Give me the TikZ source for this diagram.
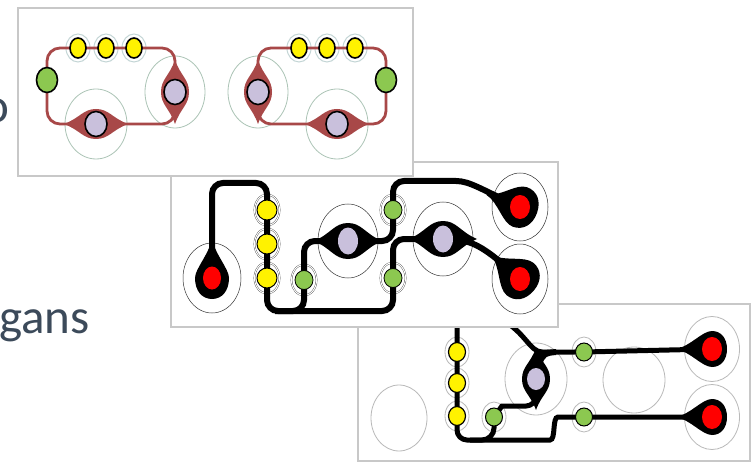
\documentclass[tikz,border=0pt]{standalone}
\usepackage{fontspec}
\newfontfamily\slidefont{Carlito}
\usetikzlibrary{shapes.geometric}
\usetikzlibrary{positioning}
\usetikzlibrary{backgrounds}
\definecolor{rust}{RGB}{168,72,72}
\definecolor{leafgreen}{RGB}{140,200,80}
\definecolor{lavender}{RGB}{201,192,220}
\definecolor{framegray}{RGB}{200,200,200}
\definecolor{sagegray}{RGB}{172,196,182}
\definecolor{mistgray}{RGB}{196,214,214}
\definecolor{lightgray}{RGB}{185,185,185}
\definecolor{slate}{RGB}{60,74,90}
\tikzstyle{dot} = [ellipse, inner sep=0pt, outer sep=0pt, draw=black, line width=1.2pt]
\tikzstyle{yel} = [dot, fill=yellow]
\tikzstyle{grn} = [dot, fill=leafgreen]
\tikzstyle{lav} = [dot, fill=lavender]
\tikzstyle{redspot} = [ellipse, inner sep=0pt, outer sep=0pt, fill=red]
\tikzstyle{panel} = [fill=white, draw=framegray, line width=2pt]
\tikzstyle{zone} = [draw=black!80, line width=0.5pt]
\tikzstyle{halo} = [draw=black!75, line width=0.35pt, double, double distance=1pt]
\tikzstyle{rustline} = [draw=rust, line width=2.8pt, rounded corners=13pt]
\tikzstyle{wire} = [draw=black, line width=6pt, rounded corners=11pt]
\tikzstyle{thinwire} = [draw=black, line width=5pt, rounded corners=10pt]
\tikzstyle{slide} = [font=\slidefont\fontsize{49}{52}\selectfont, text=slate, inner sep=0pt]
\tikzset{sz/.style 2 args={minimum width=#1pt, minimum height=#2pt}}
\newcommand{\flare}[5][]{ %
  % lens round node #2, turned by #3, half length #4, half height #5
  \fill[#1, shift={(#2)}, rotate=#3] (-#4,0)
    .. controls ({-0.5*#4},{-0.4*#5}) and ({-0.4*#4},-#5) .. (0,-#5)
    .. controls ({0.4*#4},-#5) and ({0.5*#4},{-0.4*#5}) .. (#4,0)
    .. controls ({0.5*#4},{0.4*#5}) and ({0.4*#4},#5) .. (0,#5)
    .. controls ({-0.4*#4},#5) and ({-0.5*#4},{0.4*#5}) .. cycle ;
}
\newcommand{\tear}[6][]{ %
  % drop round node #2, tip turned by #3, length #4, half width #5, back #6
  \fill[#1, shift={(#2)}, rotate=#3] (0,-#4)
    .. controls ({0.15*#5},{-0.6*#4}) and (#5,{-0.55*#5}) .. (#5,0)
    .. controls (#5,{0.6*#6}) and ({0.6*#5},#6) .. (0,#6)
    .. controls ({-0.6*#5},#6) and (-#5,{0.6*#6}) .. (-#5,0)
    .. controls (-#5,{-0.55*#5}) and ({-0.15*#5},{-0.6*#4}) .. cycle ;
}
\newcommand{\ringnet}[3]{ %
  % one loop of the top panel: prefix #1, mirror axis #2, side #3
  \node[yel, sz={16}{20}, line width=1.6pt] (#1y1) at ({#2+#3*78},48) {};
  \node[yel, sz={16}{20}, line width=1.6pt] (#1y2) at ({#2+#3*106},48) {};
  \node[yel, sz={16}{20}, line width=1.6pt] (#1y3) at ({#2+#3*134},48) {};
  \node[grn, sz={21}{25}, line width=1.6pt] (#1g) at ({#2+#3*47},80) {};
  \node[lav, sz={22}{25}, line width=1.6pt] (#1p) at ({#2+#3*96},124) {};
  \node[lav, sz={22}{25}, line width=1.6pt] (#1q) at ({#2+#3*175},92) {};
  \begin{pgfonlayer}{background}
    \foreach \y in {#1y1,#1y2,#1y3}
      \draw[mistgray, line width=1pt] (\y) ellipse [x radius=12, y radius=14];
    \draw[sagegray, line width=0.8pt] (#1p) ellipse [x radius=31, y radius=35];
    \draw[sagegray, line width=0.8pt] (#1q) ellipse [x radius=30, y radius=36];
    \draw[rustline] (#1g.center) |- (#1y1.center) -- (#1y3.center)
      -| (#1q.center) |- (#1p.center) -| (#1g.center);
    \flare[rust]{#1p}{0}{32}{15}
    \flare[rust]{#1q}{90}{32}{14}
  \end{pgfonlayer}
}

\begin{document}
\begin{tikzpicture}[x=1pt, y=-1pt]
  \useasboundingbox (0,0) rectangle (751,462);

  % slide text behind the panels
  \node[slide, anchor=base east] (txto) at (10,123) {o};
  \node[slide, anchor=base west] (txtgans) at (-1,333) {gans};

  % bottom panel
  \node[yel, sz={17}{19}] (cy1) at (457,352) {};
  \node[yel, sz={17}{19}, below=12pt of cy1] (cy2) {};
  \node[yel, sz={17}{19}, below=14pt of cy2] (cy3) {};
  \node[grn, sz={17}{18}, line width=1pt] (cg1) at (494,417) {};
  \node[lav, sz={18}{22}, draw=none] (cp) at (536,379) {};
  \node[grn, sz={17}{18}, line width=1pt] (cg2) at (584,352) {};
  \node[grn, sz={17}{18}, line width=1pt] (cg3) at (584,417) {};
  \node[redspot, sz={20}{24}] (cr1) at (712,349) {};
  \node[redspot, sz={20}{24}] (cr2) at (712,417) {};
  \coordinate (cn) at (457,318);
  \coordinate (cs) at (540,440);
  \coordinate (cm) at (470,440);
  \coordinate (cu) at (502,320);
  \coordinate (cj) at (552,352);
  \coordinate (ce) at (568,417);
  \begin{pgfonlayer}{background}
    \draw[panel] (358,304) rectangle (749.5,461);
    \draw[lightgray, line width=0.8pt] (399,418) ellipse [x radius=28, y radius=33];
    \draw[lightgray, line width=0.8pt] (634,380) ellipse [x radius=31, y radius=33];
    \foreach \n/\rx/\ry in {cp/31/36, cr1/27.5/32.5, cr2/27.5/32.5}
      \draw[lightgray, line width=0.8pt] (\n) ellipse [x radius=\rx, y radius=\ry];
    \foreach \n in {cy1,cy2,cy3,cg1,cg2,cg3}
      \draw[lightgray, line width=0.8pt] (\n) ellipse [x radius=12, y radius=15];
    \draw[thinwire] (cn) -- (cy1.center) -- (cy3.center) |- (cs)
      .. controls (556,440) and (552,417) .. (ce) -- (cg3.center) -- (cr2.center);
    \draw[thinwire, rounded corners=12pt] (cg1.center) |- (cm);
    \draw[thinwire] (cg1.center) .. controls (502,406) .. (512,406) -| (cp.center);
    \draw[thinwire] (cu) .. controls (525,332) and (530,352) .. (cj)
      -- (cg2.center) -- (cr1.center);
    \fill (528,340) .. controls (534,351) .. (556,349) -- (556,355)
      .. controls (546,356) .. (542,364) -- cycle;
    \flare{cp}{90}{31}{14}
    \tear{cr1}{90}{36}{18}{15}
    \tear{cr2}{90}{36}{18}{15}
  \end{pgfonlayer}

  % middle panel
  \node[redspot, sz={18}{23}] (br1) at (212,278) {};
  \node[yel, sz={20}{20}, line width=1pt] (by1) at (267,210) {};
  \node[yel, sz={20}{20}, line width=1pt, below=14pt of by1] (by2) {};
  \node[yel, sz={20}{20}, line width=1pt, below=14pt of by2] (by3) {};
  \node[grn, sz={18}{19}, line width=0.8pt] (bg1) at (304,280) {};
  \node[lav, sz={20}{27}, draw=none] (bp1) at (348,241) {};
  \node[grn, sz={18}{19}, line width=0.8pt] (bg2) at (393,210) {};
  \node[grn, sz={18}{19}, line width=0.8pt] (bg3) at (393,278) {};
  \node[lav, sz={20}{27}, draw=none] (bp2) at (443,239) {};
  \node[redspot, sz={20}{24}] (br2) at (520,207) {};
  \node[redspot, sz={20}{24}] (br3) at (520,279) {};
  \coordinate (bn) at (240,183);
  \coordinate (bs) at (330,311);
  \coordinate (bm) at (275,311);
  \coordinate (bt) at (445,181);
  \begin{pgfonlayer}{background}
    \draw[panel] (170.5,162) rectangle (558,327);
    \foreach \n/\rx/\ry in {br1/29/35, bp1/30/37, bp2/30/37, br2/28/34, br3/28/35}
      \draw[zone] (\n) ellipse [x radius=\rx, y radius=\ry];
    \foreach \n in {by1,by2,by3,bg1,bg2,bg3}
      \draw[halo] (\n) ellipse [x radius=12.5, y radius=15.5];
    \draw[wire] (br1.center) |- (bn) -| (by1.center) -- (by3.center) |- (bs)
      -| (bg3.center) |- (bp2.center);
    \draw[wire] (bp1.center) -| (bg1.center) |- (bm);
    \draw[wire] (bp1.center) -| (bg2.center) |- (bt)
      .. controls (470,181) and (482,190) .. (br2.center);
    \draw[wire] (bp2.center) .. controls (472,239) and (482,245) .. (br3.center);
    \flare{bp1}{0}{34}{18}
    \flare{bp2}{0}{34}{18}
    \tear{br1}{0}{40}{17}{21}
    \tear{br2}{70}{36}{21}{18}
    \tear{br3}{50}{38}{21}{18}
  \end{pgfonlayer}

  % top panel
  \begin{pgfonlayer}{background}
    \draw[panel] (18,8) rectangle (413,176);
  \end{pgfonlayer}
  \ringnet{a}{0}{1}
  \ringnet{b}{433}{-1}
\end{tikzpicture}
\end{document}
